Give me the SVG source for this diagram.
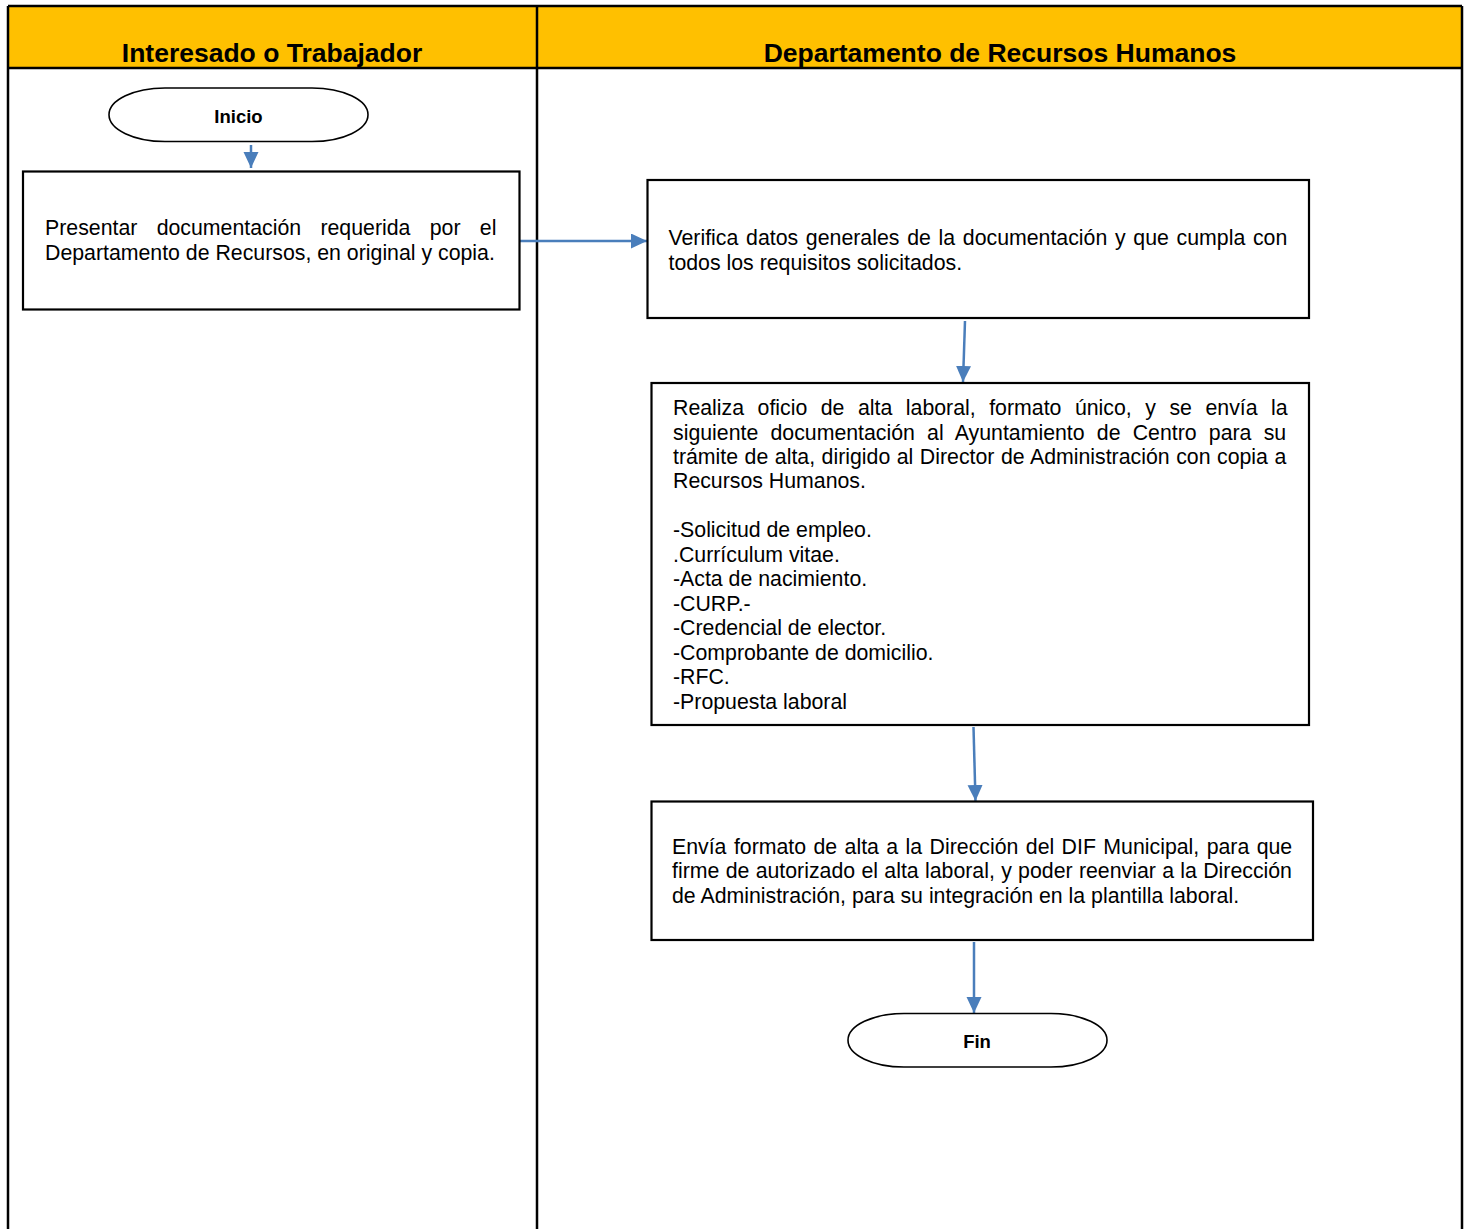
<svg xmlns="http://www.w3.org/2000/svg" width="1467" height="1229" viewBox="0 0 1467 1229">
<style>
  .lane { stroke: #000; stroke-width: 2.5; fill: none; }
  .hdr { font-family: "Liberation Sans", Arial, sans-serif; font-weight: bold; font-size: 26.5px; fill: #000; text-anchor: middle; }
  .box { fill: #fff; stroke: #000; stroke-width: 2.2; }
  .term { fill: #fff; stroke: #000; stroke-width: 1.6; }
  .tt { font-family: "Liberation Sans", Arial, sans-serif; font-weight: bold; font-size: 18.5px; fill: #000; text-anchor: middle; }
  .t { font-family: "Liberation Sans", Arial, sans-serif; font-size: 21.3px; fill: #000; }
  .conn { stroke: #4A7EBB; stroke-width: 2.5; fill: none; marker-end: url(#ah); }
</style>
<defs>
  <marker id="ah" markerUnits="userSpaceOnUse" markerWidth="17" markerHeight="16" refX="16" refY="7.5" orient="auto">
    <path d="M0,0 L16,7.5 L0,15 z" fill="#4A7EBB"/>
  </marker>
</defs>
<rect width="1467" height="1229" fill="#fff"/>
<g id="lanes">
  <rect x="8" y="6" width="1454" height="62" fill="#FFC000"/>
  <line class="lane" x1="8" y1="6" x2="1462" y2="6"/>
  <line class="lane" x1="8" y1="68" x2="1462" y2="68"/>
  <line class="lane" x1="8" y1="6" x2="8" y2="1235"/>
  <line class="lane" x1="537" y1="6" x2="537" y2="1235"/>
  <line class="lane" x1="1462" y1="6" x2="1462" y2="1235"/>
  <text class="hdr" x="272" y="62">Interesado o Trabajador</text>
  <text class="hdr" x="1000" y="62">Departamento de Recursos Humanos</text>
</g>
<g id="connectors">
  <line class="conn" x1="251" y1="145" x2="251" y2="168"/>
  <line class="conn" x1="516" y1="241" x2="647" y2="241"/>
  <line class="conn" x1="965" y1="321" x2="963" y2="382"/>
  <line class="conn" x1="973.5" y1="727" x2="975.5" y2="801"/>
  <line class="conn" x1="974" y1="942" x2="974" y2="1013"/>
</g>
<g id="inicio">
  <rect class="term" x="109" y="88" width="259" height="53.5" rx="56" ry="26.75"/>
  <text class="tt" x="238.5" y="123">Inicio</text>
</g>
<g id="presentar">
  <rect class="box" x="23" y="171.5" width="496.5" height="138"/>
  <text class="t" x="45" y="235" word-spacing="13.4">Presentar documentación requerida por el</text>
  <text class="t" x="45" y="259.5">Departamento de Recursos, en original y copia.</text>
</g>
<g id="verifica">
  <rect class="box" x="647.5" y="180" width="661.5" height="138"/>
  <text class="t" x="668.5" y="245" word-spacing="1.8">Verifica datos generales de la documentación y que cumpla con</text>
  <text class="t" x="668.5" y="269.5">todos los requisitos solicitados.</text>
</g>
<g id="realiza">
  <rect class="box" x="651.5" y="383" width="657.5" height="342"/>
  <text class="t" x="673" y="415" word-spacing="7.6">Realiza oficio de alta laboral, formato único, y se envía la</text>
  <text class="t" x="673" y="439.5" word-spacing="6.3">siguiente documentación al Ayuntamiento de Centro para su</text>
  <text class="t" x="673" y="463.5" word-spacing="0.6">trámite de alta, dirigido al Director de Administración con copia a</text>
  <text class="t" x="673" y="488">Recursos Humanos.</text>
  <text class="t" x="673" y="537">-Solicitud de empleo.</text>
  <text class="t" x="673" y="561.5">.Currículum vitae.</text>
  <text class="t" x="673" y="586">-Acta de nacimiento.</text>
  <text class="t" x="673" y="610.5">-CURP.-</text>
  <text class="t" x="673" y="635">-Credencial de elector.</text>
  <text class="t" x="673" y="659.5">-Comprobante de domicilio.</text>
  <text class="t" x="673" y="684">-RFC.</text>
  <text class="t" x="673" y="708.5">-Propuesta laboral</text>
</g>
<g id="envia">
  <rect class="box" x="651.5" y="801.5" width="661.5" height="138.5"/>
  <text class="t" x="672" y="853.5" word-spacing="1.5">Envía formato de alta a la Dirección del DIF Municipal, para que</text>
  <text class="t" x="672" y="878" word-spacing="0.4">firme de autorizado el alta laboral, y poder reenviar a la Dirección</text>
  <text class="t" x="672" y="902.5">de Administración, para su integración en la plantilla laboral.</text>
</g>
<g id="fin">
  <rect class="term" x="848" y="1013.5" width="259" height="53.5" rx="56" ry="26.75"/>
  <text class="tt" x="977" y="1048">Fin</text>
</g>
</svg>
